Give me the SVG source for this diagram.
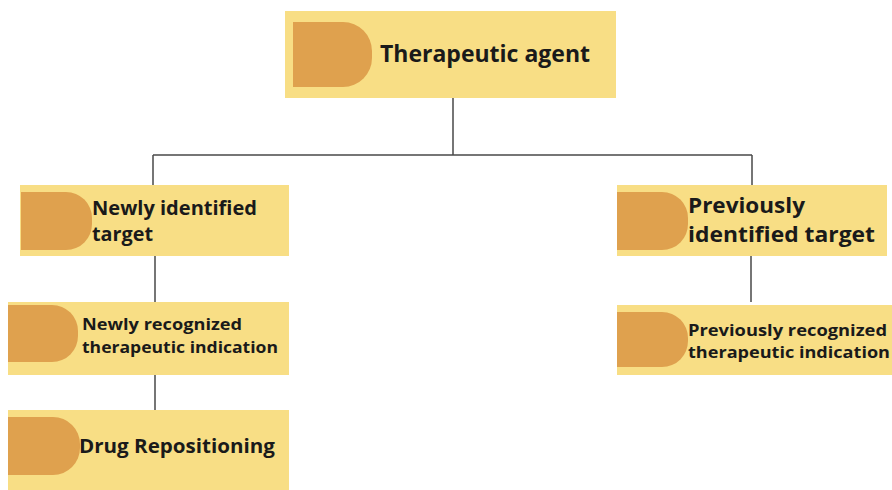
<svg xmlns="http://www.w3.org/2000/svg" width="892" height="490" viewBox="0 0 892 490">
  <style>
    .box { fill: #F8DE85; }
    .tab { fill: #DFA14E; }
    .lbl { font-family: "Open Sans", "Liberation Sans", sans-serif; font-weight: 700; fill: #1a1a1a; }
    .link { stroke: #4a4a4a; stroke-width: 1.5; fill: none; }
  </style>
  <rect width="892" height="490" fill="#ffffff"/>

  <g id="connectors">
    <path class="link" d="M453 98 V155 M153 155 H752 M153 155 V186 M752 155 V186"/>
    <path class="link" d="M155 256 V302 M155 375 V410 M751 256 V302"/>
  </g>

  <g id="therapeutic-agent">
    <rect class="box" x="285" y="11" width="331" height="87"/>
    <path class="tab" d="M293 22 H343 A29 29 0 0 1 372 51 V58 A29 29 0 0 1 343 87 H293 Z"/>
    <text class="lbl" x="380" y="62" font-size="22.5" textLength="210" lengthAdjust="spacingAndGlyphs">Therapeutic agent</text>
  </g>

  <g id="newly-identified-target">
    <rect class="box" x="20" y="185" width="269" height="71"/>
    <path class="tab" d="M21 192 H66 A26 26 0 0 1 92 218 V224 A26 26 0 0 1 66 250 H21 Z"/>
    <text class="lbl" font-size="19"><tspan x="92" y="215" textLength="165" lengthAdjust="spacingAndGlyphs">Newly identified</tspan><tspan x="92" y="241" textLength="61" lengthAdjust="spacingAndGlyphs">target</tspan></text>
  </g>

  <g id="newly-recognized-indication">
    <rect class="box" x="8" y="302" width="281" height="73"/>
    <path class="tab" d="M8 305 H52 A26 26 0 0 1 78 331 V336 A26 26 0 0 1 52 362 H8 Z"/>
    <text class="lbl" font-size="16"><tspan x="82" y="330" textLength="160" lengthAdjust="spacingAndGlyphs">Newly recognized</tspan><tspan x="82" y="353" textLength="196" lengthAdjust="spacingAndGlyphs">therapeutic indication</tspan></text>
  </g>

  <g id="drug-repositioning">
    <rect class="box" x="8" y="410" width="281" height="80"/>
    <path class="tab" d="M8 417 H53 A27 27 0 0 1 80 444 V448 A27 27 0 0 1 53 475 H8 Z"/>
    <text class="lbl" x="79" y="453" font-size="20" textLength="196" lengthAdjust="spacingAndGlyphs">Drug Repositioning</text>
  </g>

  <g id="previously-identified-target">
    <rect class="box" x="617" y="185" width="270" height="71"/>
    <path class="tab" d="M617 192 H662 A26 26 0 0 1 688 218 V224 A26 26 0 0 1 662 250 H617 Z"/>
    <text class="lbl" font-size="21"><tspan x="688" y="213" textLength="117" lengthAdjust="spacingAndGlyphs">Previously</tspan><tspan x="688" y="242" textLength="187" lengthAdjust="spacingAndGlyphs">identified target</tspan></text>
  </g>

  <g id="previously-recognized-indication">
    <rect class="box" x="617" y="305" width="275" height="70"/>
    <path class="tab" d="M617 312 H662 A26 26 0 0 1 688 338 V341 A26 26 0 0 1 662 367 H617 Z"/>
    <text class="lbl" font-size="16"><tspan x="688" y="336" textLength="199" lengthAdjust="spacingAndGlyphs">Previously recognized</tspan><tspan x="688" y="358" textLength="202" lengthAdjust="spacingAndGlyphs">therapeutic indication</tspan></text>
  </g>
</svg>
